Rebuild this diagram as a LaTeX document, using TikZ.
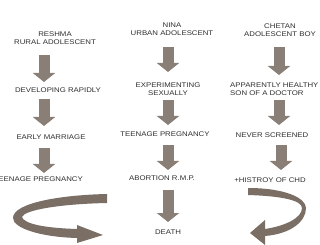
\documentclass[tikz,border=0pt]{standalone}
\usepackage{fontspec}
\setmainfont[FakeStretch=1.15]{Liberation Sans}
\usetikzlibrary{arrows.meta}
\definecolor{arr}{HTML}{8A7F76}
\definecolor{arrdark}{HTML}{7A6E65}
\definecolor{txt}{HTML}{2E2E2E}
\begin{document}
\begin{tikzpicture}[x=1pt,y=-1pt,
  lbl/.style={font=\fontsize{6.8}{7.8}\selectfont, text=txt, inner sep=0pt, align=center},
  blk/.style={draw=arr, line width=11pt, -{Triangle[width=22pt,length=9pt]}},
  curv/.style={fill=arrdark, draw=none}]
\useasboundingbox (0,0) rectangle (320,245);
% column 1
\node[lbl] (r1) at (55,38.5) {RESHMA\\RURAL ADOLESCENT};
\node[lbl] (r2) at (58,90) {DEVELOPING RAPIDLY};
\node[lbl] (r3) at (51,137) {EARLY MARRIAGE};
\node[lbl, anchor=east] (r4) at (83,179.5) {TEENAGE PREGNANCY};
% column 2
\node[lbl] (n1) at (172,29.5) {NINA\\URBAN ADOLESCENT};
\node[lbl] (n2) at (168,89.5) {EXPERIMENTING\\SEXUALLY};
\node[lbl] (n3) at (165,134) {TEENAGE PREGNANCY};
\node[lbl] (n4) at (162,178) {ABORTION R.M.P.};
\node[lbl] (n5) at (168,232) {DEATH};
% column 3
\node[lbl] (c1) at (280,30) {CHETAN\\ADOLESCENT BOY};
\node[lbl, align=left, anchor=west] (c2) at (230,89) {APPARENTLY HEALTHY\\SON OF A DOCTOR};
\node[lbl] (c3) at (272,135) {NEVER SCREENED};
\node[lbl] (c4) at (270,180) {+HISTROY OF CHD};
% arrow end points
\coordinate (a1) at (44,55);  \coordinate (b1) at (44,82);
\coordinate (a2) at (44,99);  \coordinate (b2) at (44,126);
\coordinate (a3) at (44,148); \coordinate (b3) at (44,173);
\coordinate (d1) at (168,47);  \coordinate (e1) at (168,72);
\coordinate (d2) at (168,100); \coordinate (e2) at (168,125);
\coordinate (d3) at (168,145); \coordinate (e3) at (168,170);
\coordinate (d4) at (168,190); \coordinate (e4) at (168,222);
\coordinate (f1) at (279,47);  \coordinate (g1) at (279,75);
\coordinate (f2) at (279,100); \coordinate (g2) at (279,125);
\coordinate (f3) at (281,145); \coordinate (g3) at (281,170);
\foreach \s/\t in {a1/b1,a2/b2,a3/b3,d1/e1,d2/e2,d3/e3,d4/e4,f1/g1,f2/g2,f3/g3}
  \draw[blk] (\s) -- (\t);
% curved arrows
\fill[curv] (107,194) .. controls (60,195) and (13,203) .. (13,218)
  .. controls (13,228) and (40,237) .. (77,238) -- (77,243) -- (103,235) -- (77,225) -- (77,229)
  .. controls (45,228) and (24,224) .. (22,217)
  .. controls (24,210) and (60,204) .. (107,203) -- cycle;
\fill[curv] (248,188) .. controls (285,188) and (306,198) .. (306,208)
  .. controls (306,222) and (290,234) .. (265,236) -- (265,245) -- (250,233) -- (265,220) -- (265,229)
  .. controls (285,226) and (302,218) .. (302,208)
  .. controls (302,200) and (280,196) .. (248,195) -- cycle;
\end{tikzpicture}
\end{document}
